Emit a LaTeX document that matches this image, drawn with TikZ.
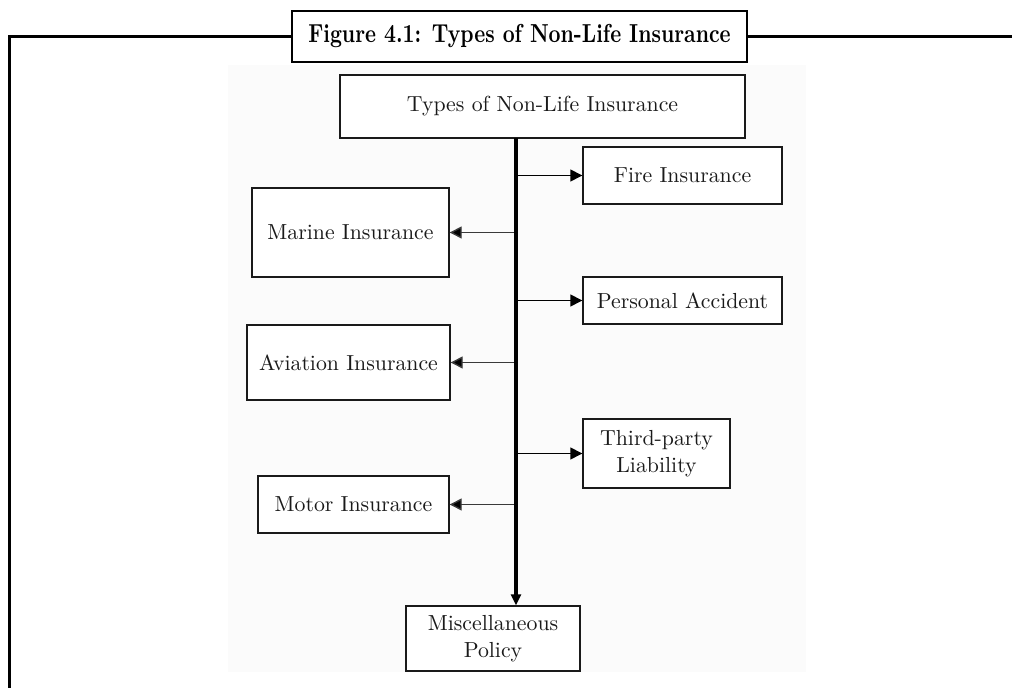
\documentclass[tikz,border=0pt]{standalone}
\usepackage{graphicx}
\usepackage{tikz}
\usetikzlibrary{arrows.meta}
\definecolor{ink}{HTML}{1A1A1A}
\definecolor{connector}{HTML}{3A3A3A}
\definecolor{panel}{HTML}{FBFBFB}
\tikzset{
  frameline/.style={draw=black, line width=1.5pt},
  titlebox/.style={draw=black, line width=1.4pt, fill=white, inner sep=0pt, font=\fontsize{10.4}{12}\selectfont\bfseries},
  box/.style={draw=ink, line width=0.7pt, fill=white, inner sep=0pt, align=center, text=ink, font=\fontsize{10.9}{13.5}\selectfont},
  trunk/.style={draw=black, line width=2pt, -{Triangle[length=5.5pt,width=5pt]}},
  conn/.style={draw=black, line width=0.7pt, -{Triangle[length=6pt,width=6pt]}},
  lconn/.style={conn, draw=connector, -{Triangle[length=6pt,width=6pt,fill=black]}}
}

\begin{document}
\begin{tikzpicture}[x=0.5pt, y=-0.5pt]
  \useasboundingbox (0,0) rectangle (1012,688);
  \fill[panel] (228,65) rectangle (806,672);

  % frame
  \coordinate (fl) at (9,688);
  \coordinate (fc) at (9,37);
  \coordinate (fr) at (1012,37);
  \draw[frameline] (fl) -- (fc) -- (fr);
  \node[titlebox, minimum width=227.5pt, minimum height=25.5pt] (title) at (519.5,36.5)
    {\scalebox{1}[1.25]{Figure 4.1: Types of Non-Life Insurance}};

  % boxes
  \node[box, minimum width=202.5pt, minimum height=31.5pt] (top) at (542.5,106.5) {Types of Non-Life Insurance};
  \node[box, minimum width=99.5pt, minimum height=28.5pt] (fire) at (682.5,175.5) {Fire Insurance};
  \node[box, minimum width=98.5pt, minimum height=44.5pt] (marine) at (350.5,232.5) {Marine Insurance};
  \node[box, minimum width=99.5pt, minimum height=23.5pt] (personal) at (682.5,300.5) {Personal Accident};
  \node[box, minimum width=101.5pt, minimum height=37.5pt] (aviation) at (348.5,362.5) {Aviation Insurance};
  \node[box, minimum width=73.5pt, minimum height=34.5pt] (third) at (656.5,453.5) {Third-party\\Liability};
  \node[box, minimum width=95.5pt, minimum height=28.5pt] (motor) at (353.5,504.5) {Motor Insurance};
  \node[box, minimum width=87pt, minimum height=32.5pt] (misc) at (493,638.5) {Miscellaneous\\Policy};

  % connectors
  \coordinate (fork) at (516,138);
  \draw[conn] (fork |- fire.west) -- (fire.west);
  \draw[conn] (fork |- personal.west) -- (personal.west);
  \draw[conn] (fork |- third.west) -- (third.west);
  \draw[lconn] (fork |- marine.east) -- (marine.east);
  \draw[lconn] (fork |- aviation.east) -- (aviation.east);
  \draw[lconn] (fork |- motor.east) -- (motor.east);
  \draw[trunk] (fork) -- (fork |- misc.north);
\end{tikzpicture}
\end{document}
